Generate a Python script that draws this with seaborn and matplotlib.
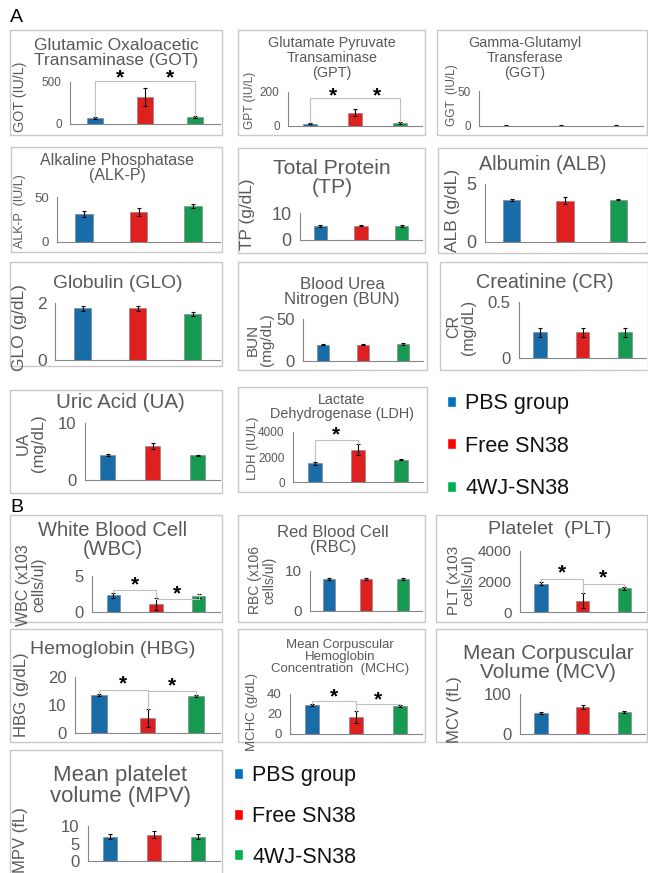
import numpy as np
import pandas as pd
import matplotlib
matplotlib.use('Agg')
import matplotlib.pyplot as plt
import seaborn as sns
from matplotlib.patches import Rectangle, Patch
from matplotlib.ticker import FuncFormatter

W, H = 648, 873

groups = ["PBS group", "Free SN38", "4WJ-SN38"]
colors = ["#0070C0", "#FF0000", "#00B050"]

# A: blood chemistry
got_mean = [70, 320, 85];      got_err = [8, 110, 10]
gpt_mean = [12, 78, 18];       gpt_err = [3, 20, 4]
ggt_mean = [0.6, 0.6, 0.6];    ggt_err = [0.2, 0.2, 0.2]
alkp_mean = [31, 33, 40];      alkp_err = [3.7, 4.4, 2]
tp_mean = [5.2, 5.3, 5.2];     tp_err = [0.3, 0.2, 0.2]
alb_mean = [3.63, 3.55, 3.63]; alb_err = [0.1, 0.3, 0.05]
glo_mean = [1.81, 1.81, 1.62]; glo_err = [0.1, 0.1, 0.06]
bun_mean = [19.5, 19.5, 20.2]; bun_err = [1, 1, 1]
cr_mean = [0.23, 0.23, 0.23];  cr_err = [0.04, 0.04, 0.04]
ua_mean = [4.4, 6.0, 4.35];    ua_err = [0.15, 0.5, 0.1]
ldh_mean = [1500, 2590, 1790]; ldh_err = [100, 450, 50]

# B: blood cell counts
wbc_mean = [2.3, 1.1, 2.2];    wbc_err = [0.3, 0.8, 0.3]
rbc_mean = [8.0, 8.0, 8.0];    rbc_err = [0.2, 0.2, 0.2]
plt_mean = [1850, 750, 1550];  plt_err = [100, 500, 120]
hbg_mean = [13.5, 5.2, 13.3];  hbg_err = [0.4, 3.2, 0.3]
mchc_mean = [29, 17, 28];      mchc_err = [1, 6, 1]
mcv_mean = [53, 68, 55];       mcv_err = [2, 5, 2]
mpv_mean = [7.0, 7.5, 7.0];    mpv_err = [0.6, 1.0, 0.8]

sns.set_style("white")
plt.rcParams['font.family'] = ['Liberation Sans', 'DejaVu Sans']

fig = plt.figure(figsize=(6.48, 8.73), dpi=100)

gray_txt = '#595959'
gray_ln = '#868686'


def fx(x):
    return x / W


def fy(y):
    return 1 - y / H


def panel(mean, err, box, axbox, yticks, title, tpos, tfs, ylabel, ypos, yfs, kfs,
          brackets=(), stars=()):
    x0, y0, x1, y1 = box
    fig.patches.append(Rectangle((fx(x0), fy(y1)), (x1 - x0) / W, (y1 - y0) / H,
                                 transform=fig.transFigure, fill=False,
                                 edgecolor='#C8C8C8', lw=1.0))
    ax = fig.add_axes([fx(axbox[0]), fy(axbox[3]),
                       (axbox[2] - axbox[0]) / W, (axbox[3] - axbox[1]) / H])
    df = pd.DataFrame({'group': groups, 'value': mean})
    sns.barplot(data=df, x='group', y='value', hue='group', palette=colors,
                width=0.32, legend=False, ax=ax, edgecolor='#7f7f7f', linewidth=0.4)
    ax.errorbar(np.arange(3), mean, yerr=err, fmt='none', ecolor='black',
                elinewidth=0.8, capsize=1.2, capthick=0.8)
    ax.set_xlim(-0.5, 2.5)
    ax.set_ylim(0, yticks[-1])
    ax.set_yticks(yticks)
    ax.yaxis.set_major_formatter(FuncFormatter(lambda v, p: '{:g}'.format(v)))
    ax.set_xticks([0, 1, 2])
    ax.set_xlabel('')
    ax.set_ylabel('')
    ax.tick_params(axis='x', labelbottom=False, direction='out', length=3,
                   width=0.8, color=gray_ln)
    ax.tick_params(axis='y', direction='out', length=4, width=0.8, color=gray_ln,
                   labelcolor=gray_txt, labelsize=kfs, pad=2)
    for s in ['top', 'right']:
        ax.spines[s].set_visible(False)
    for s in ['left', 'bottom']:
        ax.spines[s].set_color(gray_ln)
        ax.spines[s].set_linewidth(0.8)
    ax.patch.set_alpha(0)
    for (i, j, yl, yi, yj) in brackets:
        ax.plot([i, i, j, j], [yi, yl, yl, yj], color='#BFBFBF', lw=0.8, clip_on=False)
    for (sx, sy) in stars:
        ax.text(sx, sy, '*', ha='center', va='center', fontsize=15,
                fontweight='bold', color='black', clip_on=False)
    fig.text(fx(tpos[0]), fy(tpos[1]), title, ha='center', va='center',
             fontsize=tfs, color=gray_txt, linespacing=1.05)
    fig.text(fx(ypos[0]), fy(ypos[1]), ylabel, ha='center', va='center',
             rotation=90, fontsize=yfs, color=gray_txt, linespacing=1.0)
    return ax


# ---- section A ----
fig.text(fx(10), fy(18), 'A', fontsize=14, va='center', color='black')

panel(got_mean, got_err, (10, 30, 222, 135), (70, 82, 220, 124), [0, 500],
      "Glutamic Oxaloacetic\nTransaminase (GOT)", (116, 53), 12.5,
      "GOT (IU/L)", (20, 97), 10.3, 8.5,
      brackets=[(0, 2, 510, 80, 100)], stars=[(0.5, 545), (1.5, 545)])
panel(gpt_mean, gpt_err, (238, 30, 425, 135), (288, 92, 422, 126), [0, 200],
      "Glutamate Pyruvate\nTransaminase\n(GPT)", (332, 58), 10.4,
      "GPT (IU/L)", (250, 100), 8.6, 8.5,
      brackets=[(0, 2, 162, 15, 22)], stars=[(0.5, 178), (1.5, 178)])
panel(ggt_mean, ggt_err, (437, 30, 647, 135), (479, 91, 643, 126), [0, 50],
      "Gamma-Glutamyl\nTransferase\n(GGT)", (525, 58), 10.4,
      "GGT  (IU/L)", (452, 95), 8.6, 8.5)

panel(alkp_mean, alkp_err, (11, 147, 222, 252), (57, 197, 220, 242), [0, 50],
      "Alkaline Phosphatase\n(ALK-P)", (117, 168), 11.5,
      "ALK-P  (IU/L)", (20, 211), 9.0, 9.5)
panel(tp_mean, tp_err, (238, 148, 425, 253), (300, 213, 422, 240), [0, 10],
      "Total Protein\n(TP)", (332, 178), 15.2,
      "TP (g/dL)", (247, 214), 12.4, 13)
panel(alb_mean, alb_err, (438, 148, 648, 253), (485, 184, 645, 242), [0, 5],
      "Albumin (ALB)", (543, 165), 14.2,
      "ALB (g/dL)", (453, 210), 12.6, 13)

panel(glo_mean, glo_err, (10, 262, 222, 366), (55, 303, 220, 360), [0, 2],
      "Globulin (GLO)", (118, 283), 13.9,
      "GLO (g/dL)", (20, 328), 12.5, 12.5)
panel(bun_mean, bun_err, (238, 262, 427, 370), (303, 319, 423, 361), [0, 50],
      "Blood Urea\nNitrogen (BUN)", (342, 292), 12.2,
      "BUN\n(mg/dL)", (260, 340), 11, 12)
panel(cr_mean, cr_err, (440, 262, 648, 370), (519, 302, 646, 358), [0, 0.5],
      "Creatinine (CR)", (545, 282), 14.2,
      "CR\n(mg/dL)", (461, 327), 11.5, 12)

panel(ua_mean, ua_err, (10, 390, 222, 493), (85, 423, 220, 480), [0, 10],
      "Uric Acid (UA)", (120, 403), 14.8,
      "UA\n(mg/dL)", (31, 443), 12, 12)
panel(ldh_mean, ldh_err, (238, 387, 427, 492), (293, 432, 423, 482), [0, 2000, 4000],
      "Lactate\nDehydrogenase (LDH)", (342, 407), 10.4,
      "LDH (IU/L)", (253, 448), 9.5, 8.5,
      brackets=[(0, 1, 3390, 1650, 3050)], stars=[(0.5, 3800)])

fig.legend(handles=[Patch(facecolor=c, label=g) for g, c in zip(groups, colors)],
           loc='upper left', bbox_to_anchor=(fx(447), fy(393)), frameon=False,
           fontsize=15.5, handlelength=0.4, handleheight=0.4, handletextpad=0.45,
           labelspacing=1.0, borderaxespad=0, borderpad=0, labelcolor='#111111')

# ---- section B ----
fig.text(fx(10), fy(507), 'B', fontsize=14, va='center', color='black')

panel(wbc_mean, wbc_err, (10, 515, 222, 622), (92, 576, 220, 612), [0, 5],
      "White Blood Cell\n(WBC)", (113, 540), 14.5,
      "WBC (x103\ncells/ul)", (31, 585), 11.5, 12,
      brackets=[(0, 1, 3.0, 2.6, 1.9), (1, 2, 1.8, 1.9, 2.5)],
      stars=[(0.5, 3.7), (1.5, 2.5)])
panel(rbc_mean, rbc_err, (238, 515, 425, 622), (310, 571, 422, 611), [0, 10],
      "Red Blood Cell\n(RBC)", (333, 540), 12,
      "RBC (x106\ncells/ul)", (262, 580), 10, 11)
panel(plt_mean, plt_err, (436, 515, 647, 622), (520, 551, 645, 612), [0, 2000, 4000],
      "Platelet  (PLT)", (550, 530), 14,
      "PLT (x103\ncells/ul)", (461, 580), 11, 11,
      brackets=[(0, 1, 2150, 1950, 1250), (1, 2, 1850, 1250, 1670)],
      stars=[(0.5, 2550), (1.5, 2250)])

panel(hbg_mean, hbg_err, (10, 629, 222, 742), (75, 677, 220, 733), [0, 10, 20],
      "Hemoglobin (HBG)", (113, 650), 14,
      "HBG (g/dL)", (22, 695), 12, 12,
      brackets=[(0, 1, 15.5, 13.9, 8.4), (1, 2, 15.0, 8.4, 13.6)],
      stars=[(0.5, 17.5), (1.5, 17.0)])
panel(mchc_mean, mchc_err, (238, 629, 425, 742), (290, 694, 422, 734), [0, 20, 40],
      "Mean Corpuscular\nHemoglobin\nConcentration  (MCHC)", (340, 657), 9.5,
      "MCHC (g/dL)", (252, 712), 9.5, 9.5,
      brackets=[(0, 1, 33, 30, 23), (1, 2, 30, 23, 29)],
      stars=[(0.5, 37), (1.5, 34)])
panel(mcv_mean, mcv_err, (436, 629, 647, 742), (520, 694, 645, 734), [0, 100],
      "Mean Corpuscular\nVolume (MCV)", (548, 663), 15,
      "MCV (fL)", (455, 710), 12, 12)

panel(mpv_mean, mpv_err, (10, 750, 222, 880), (88, 826, 220, 861), [0, 5, 10],
      "Mean platelet\nvolume (MPV)", (120, 786), 16,
      "MPV (fL)", (20, 840), 12, 12)

fig.legend(handles=[Patch(facecolor=c, label=g) for g, c in zip(groups, colors)],
           loc='upper left', bbox_to_anchor=(fx(234), fy(765)), frameon=False,
           fontsize=15.5, handlelength=0.4, handleheight=0.4, handletextpad=0.45,
           labelspacing=0.92, borderaxespad=0, borderpad=0, labelcolor='#111111')

plt.savefig('out.png', dpi=100)
